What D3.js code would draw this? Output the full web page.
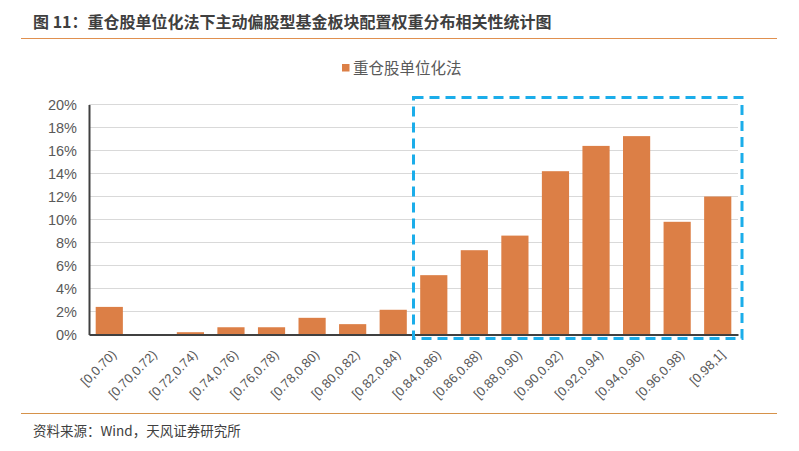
<!DOCTYPE html>
<html>
<head>
<meta charset="utf-8">
<script src="https://cdn.jsdelivr.net/npm/d3@7"></script>
<style>
  html, body { margin: 0; padding: 0; background: #fff; }
  svg { display: block; font-family: "Liberation Sans", "Noto Sans CJK SC", sans-serif; }
</style>
</head>
<body>
<svg id="chart" width="799" height="451"></svg>
<script>
// Bins of the unit-weight correlation and share of funds in each bin (%).
const categories = [
  '[0,0.70)', '[0.70,0.72)', '[0.72,0.74)', '[0.74,0.76)', '[0.76,0.78)',
  '[0.78,0.80)', '[0.80,0.82)', '[0.82,0.84)', '[0.84,0.86)', '[0.86,0.88)',
  '[0.88,0.90)', '[0.90,0.92)', '[0.92,0.94)', '[0.94,0.96)', '[0.96,0.98)', '[0.98,1]'
];
const shares = [2.4, 0, 0.2, 0.63, 0.63, 1.45, 0.9, 2.15, 5.16, 7.33, 8.6, 14.2, 16.4, 17.25, 9.8, 12.0];
const yTicks = [0, 2, 4, 6, 8, 10, 12, 14, 16, 18, 20];
const highlightFrom = '[0.84,0.86)';
const seriesName = '重仓股单位化法';
const titleText = '图 11：重仓股单位化法下主动偏股型基金板块配置权重分布相关性统计图';
const sourceText = '资料来源：Wind，天风证券研究所';

(function () {
  const svg = d3.select('#chart');
  const cjk = '"Noto Sans CJK SC", sans-serif';
  const orange = '#dc7f46';
  const gray = '#595959';

  // Header / footer rules
  svg.append('text')
    .attr('x', 33).attr('y', 28)
    .attr('font-family', cjk).attr('font-weight', 'bold').attr('font-size', 16)
    .attr('fill', '#3f3f3f')
    .text(titleText);
  svg.append('line')
    .attr('x1', 21).attr('x2', 777).attr('y1', 38.5).attr('y2', 38.5)
    .attr('stroke', '#e0904f').attr('stroke-width', 1.2);
  svg.append('line')
    .attr('x1', 21).attr('x2', 777).attr('y1', 413.5).attr('y2', 413.5)
    .attr('stroke', '#d6924a').attr('stroke-width', 1.2);
  svg.append('text')
    .attr('x', 33).attr('y', 436)
    .attr('font-family', cjk).attr('font-size', 13.5)
    .attr('fill', '#404040')
    .text(sourceText);

  // Legend
  const lg = svg.append('g').attr('transform', 'translate(342,64)');
  lg.append('rect').attr('width', 7.5).attr('height', 7.5).attr('fill', orange);
  lg.append('text')
    .attr('x', 11).attr('y', 10)
    .attr('font-family', cjk).attr('font-size', 15.5)
    .attr('fill', gray)
    .text(seriesName);

  // Plot area
  const left = 89, right = 738, top = 104.5, bottom = 334.5;
  const x = d3.scaleBand().domain(categories).range([left, right]).paddingInner(0.33).paddingOuter(0.165);
  const y = d3.scaleLinear().domain([0, 20]).range([bottom, top]);

  // Gridlines
  svg.append('g')
    .selectAll('line')
    .data(yTicks.filter(t => t > 0))
    .join('line')
    .attr('x1', left).attr('x2', right)
    .attr('y1', d => y(d)).attr('y2', d => y(d))
    .attr('stroke', '#d9d9d9').attr('stroke-width', 1);

  // Y axis
  const yAxis = svg.append('g')
    .attr('transform', `translate(${left},0)`)
    .call(d3.axisLeft(y).tickValues(yTicks).tickSize(0).tickPadding(12).tickFormat(d => d + '%'));
  yAxis.select('.domain').attr('stroke', '#404040').attr('stroke-width', 2);
  yAxis.selectAll('text')
    .attr('font-family', '"Liberation Sans Narrow", "Liberation Sans", sans-serif')
    .attr('font-size', 14.5).attr('fill', gray);

  // Bars
  svg.append('g')
    .selectAll('rect')
    .data(categories.map((c, i) => ({ c, v: shares[i] })))
    .join('rect')
    .attr('x', d => x(d.c))
    .attr('y', d => y(d.v))
    .attr('width', x.bandwidth())
    .attr('height', d => bottom - y(d.v))
    .attr('fill', orange);

  // X axis
  const xAxis = svg.append('g')
    .attr('transform', `translate(0,${bottom})`)
    .call(d3.axisBottom(x).tickSize(0).tickPadding(0));
  xAxis.select('.domain').attr('stroke', '#404040').attr('stroke-width', 2);
  xAxis.selectAll('text')
    .attr('font-family', '"Liberation Sans", sans-serif')
    .attr('font-size', 13).attr('fill', gray)
    .attr('text-anchor', 'end')
    .attr('dy', 0)
    .attr('transform', 'translate(8,21) rotate(-45)');

  // Dashed highlight box around the high-correlation bins
  const bx0 = x(highlightFrom) - x.step() * x.paddingInner() / 2;
  svg.append('rect')
    .attr('x', bx0).attr('y', top - 7)
    .attr('width', right + 4 - bx0).attr('height', bottom + 4 - (top - 7))
    .attr('fill', 'none')
    .attr('stroke', '#1badea').attr('stroke-width', 3)
    .attr('stroke-dasharray', '10,6');
})();
</script>
</body>
</html>
